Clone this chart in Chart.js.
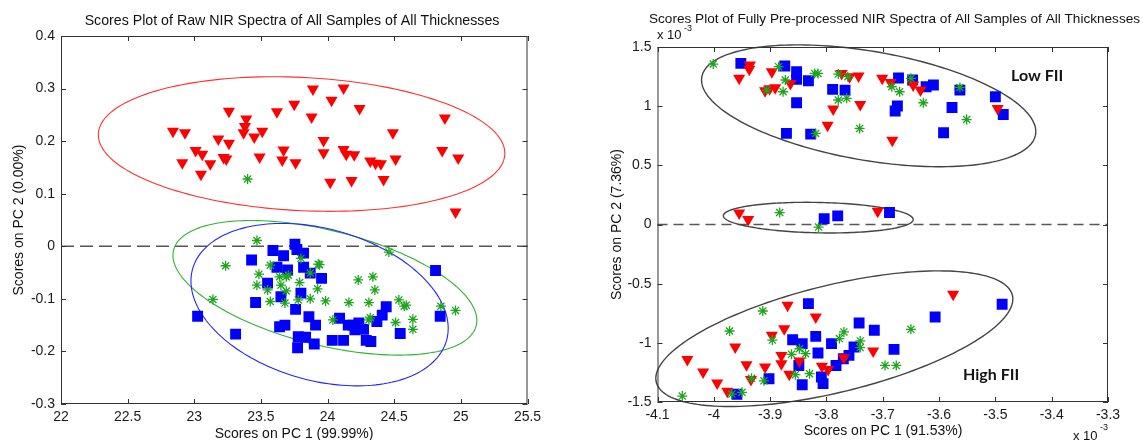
<!DOCTYPE html>
<html>
<head>
<meta charset="utf-8">
<script src="https://cdn.jsdelivr.net/npm/chart.js@4.4.1/dist/chart.umd.min.js"></script>
<style>
  html, body { margin: 0; padding: 0; background: #fff; }
  #wrap { position: relative; width: 1146px; height: 440px; overflow: hidden; }
  .box { position: absolute; top: 0; width: 573px; height: 440px; }
  #left { left: 0; }
  #right { left: 573px; }
</style>
</head>
<body>
<div id="wrap">
  <div class="box" id="left"><canvas id="rawChart" width="573" height="440"></canvas></div>
  <div class="box" id="right"><canvas id="preChart" width="573" height="440"></canvas></div>
</div>
<script>
// ---- left plot: raw spectra, PC1 vs PC2 ----
const rawXTicks = [22, 22.5, 23, 23.5, 24, 24.5, 25, 25.5];
const rawYTicks = [-0.3, -0.2, -0.1, 0, 0.1, 0.2, 0.3, 0.4];

const rawRed = [
  [22.84, 0.219], [22.93, 0.216], [23.26, 0.257], [23.39, 0.242], [23.38, 0.228], [23.37, 0.216],
  [23.45, 0.208], [23.51, 0.219], [23.62, 0.256], [23.75, 0.270], [23.89, 0.299], [23.88, 0.246],
  [24.03, 0.278], [24.12, 0.301], [24.24, 0.262], [24.49, 0.216], [24.88, 0.244], [23.18, 0.204],
  [23.26, 0.196], [23.01, 0.182], [23.06, 0.175], [22.91, 0.159], [23.12, 0.157], [23.05, 0.137],
  [23.22, 0.169], [23.24, 0.166], [23.49, 0.170], [23.67, 0.183], [23.66, 0.164], [23.76, 0.159],
  [23.97, 0.201], [23.97, 0.178], [24.12, 0.184], [24.14, 0.175], [24.20, 0.174], [24.32, 0.162],
  [24.36, 0.158], [24.40, 0.157], [24.51, 0.166], [24.02, 0.122], [24.18, 0.125], [24.42, 0.127],
  [24.86, 0.182], [24.98, 0.168], [24.96, 0.065]
];
const rawBlue = [
  [23.43, -0.026], [23.59, -0.008], [23.67, -0.018], [23.755, 0.004], [23.77, -0.006], [23.82, -0.013],
  [23.62, -0.040], [23.70, -0.045], [23.82, -0.040], [23.87, -0.051], [23.955, -0.061], [23.55, -0.070],
  [23.65, -0.096], [23.80, -0.089], [23.46, -0.107], [23.76, -0.120], [23.64, -0.153], [23.68, -0.150],
  [23.86, -0.134], [23.91, -0.150], [23.78, -0.172], [23.835, -0.173], [23.775, -0.193], [23.90, -0.186],
  [24.09, -0.137], [24.035, -0.179], [24.12, -0.179], [24.155, -0.150], [24.19, -0.150], [24.235, -0.146],
  [24.27, -0.158], [24.205, -0.159], [24.29, -0.179], [24.325, -0.181], [24.37, -0.143], [24.41, -0.131],
  [24.44, -0.115], [24.545, -0.166], [24.81, -0.046], [24.845, -0.133], [23.025, -0.133], [23.31, -0.167]
];
const rawGreen = [
  [23.40, 0.128], [23.47, 0.011], [23.235, -0.037], [23.57, -0.036], [23.93, -0.034], [23.485, -0.053],
  [23.64, -0.058], [23.69, -0.058], [23.705, -0.055], [23.87, -0.051], [23.47, -0.074], [23.55, -0.083],
  [23.65, -0.074], [23.79, -0.069], [23.925, -0.081], [23.69, -0.085], [24.34, -0.058], [24.23, -0.064],
  [24.355, -0.083], [23.14, -0.101], [23.57, -0.105], [23.68, -0.108], [23.78, -0.102], [23.87, -0.100],
  [23.985, -0.104], [24.16, -0.107], [24.31, -0.107], [24.535, -0.102], [24.575, -0.114], [24.59, -0.112],
  [24.85, -0.114], [24.96, -0.122], [24.04, -0.140], [24.32, -0.136], [24.31, -0.140], [24.46, -0.011],
  [24.51, -0.145], [24.64, -0.139], [24.64, -0.158], [23.80, -0.023], [23.94, -0.035]
];
// ellipse: centre x, centre y, then x = cx + a*cos + b*sin, y = cy + c*cos + d*sin
const rawEllipses = [
  [23.805, 0.1945, 1.525, 0, -0.0175, 0.1268],
  [23.98, -0.079, 1.14, 0, -0.062, 0.112],
  [23.94, -0.111, 0.965, 0, -0.045, 0.1478]
];

// ---- right plot: fully pre-processed spectra (values x 10^-3) ----
const preXTicks = [-4.1, -4, -3.9, -3.8, -3.7, -3.6, -3.5, -3.4, -3.3];
const preYTicks = [-1.5, -1, -0.5, 0, 0.5, 1, 1.5];

const preRed = [
  [-3.955, 1.235], [-3.936, 1.348], [-3.937, 1.311], [-3.897, 1.291], [-3.864, 1.192], [-3.909, 1.131],
  [-3.901, 1.147], [-3.891, 1.155], [-3.773, 1.277], [-3.759, 1.249], [-3.743, 1.254], [-3.788, 0.977],
  [-3.740, 1.015], [-3.798, 0.839], [-3.701, 1.235], [-3.686, 1.199], [-3.646, 1.179], [-3.633, 1.136],
  [-3.683, 0.713], [-3.496, 0.981],
  [-3.955, 0.098], [-3.939, 0.042], [-3.709, 0.112],
  [-4.047, -1.140], [-4.019, -1.247], [-3.994, -1.340], [-3.976, -1.410], [-3.962, -1.035], [-3.942, -1.185],
  [-3.934, -1.309], [-3.909, -1.204], [-3.897, -0.936], [-3.875, -0.880], [-3.869, -0.682], [-3.880, -1.106],
  [-3.880, -1.176], [-3.866, -1.266], [-3.848, -1.153], [-3.819, -0.781], [-3.808, -1.198], [-3.797, -1.226],
  [-3.769, -1.125], [-3.717, -1.069], [-3.575, -0.589]
];
const preBlue = [
  [-3.952, 1.362], [-3.874, 1.339], [-3.853, 1.291], [-3.853, 1.226], [-3.832, 1.215], [-3.789, 1.142],
  [-3.767, 1.136], [-3.853, 1.029], [-3.871, 0.770], [-3.828, 0.764], [-3.672, 1.238], [-3.647, 1.221],
  [-3.623, 1.164], [-3.610, 1.179], [-3.674, 1.001], [-3.678, 0.959], [-3.563, 1.136], [-3.577, 0.989],
  [-3.592, 0.775], [-3.500, 1.080], [-3.486, 0.930],
  [-3.804, 0.050], [-3.780, 0.073], [-3.688, 0.101],
  [-3.959, -1.435], [-3.902, -1.303], [-3.860, -0.974], [-3.843, -1.007], [-3.849, -1.191], [-3.843, -1.354],
  [-3.832, -0.669], [-3.819, -0.945], [-3.815, -1.086], [-3.809, -1.289], [-3.806, -1.345], [-3.791, -1.007],
  [-3.783, -1.191], [-3.770, -1.134], [-3.760, -1.106], [-3.751, -1.035], [-3.742, -0.832], [-3.715, -0.894],
  [-3.680, -1.055], [-3.607, -0.782], [-3.488, -0.674]
];
const preGreen = [
  [-4.001, 1.356], [-3.885, 1.334], [-3.873, 1.221], [-3.877, 1.122], [-3.906, 1.136], [-3.821, 1.277],
  [-3.815, 1.277], [-3.779, 1.271], [-3.762, 1.249], [-3.779, 1.052], [-3.764, 1.066], [-3.741, 0.812],
  [-3.819, 0.770], [-3.650, 1.235], [-3.684, 1.164], [-3.670, 1.122], [-3.628, 1.029], [-3.563, 1.158],
  [-3.551, 0.887],
  [-3.883, 0.101], [-3.814, -0.022],
  [-4.056, -1.450], [-3.972, -0.900], [-3.950, -1.418], [-3.968, -1.433], [-3.933, -1.300], [-3.913, -0.731],
  [-3.911, -1.321], [-3.896, -0.977], [-3.862, -1.097], [-3.855, -1.269], [-3.848, -1.050], [-3.837, -1.092],
  [-3.830, -1.261], [-3.777, -0.964], [-3.769, -0.908], [-3.740, -0.984], [-3.740, -1.040], [-3.696, -1.191],
  [-3.676, -1.191], [-3.650, -0.886]
];
const preEllipses = [
  [-3.725, 1.003, 0.2968, 0, -0.218, 0.4666],
  [-3.8145, 0.058, 0.1685, 0, -0.016, 0.1285],
  [-3.786, -0.965, 0.317, 0, 0.335, 0.465]
];

const SANS = '"Liberation Sans", Arial, sans-serif';
const fmt = v => String(+v.toFixed(3));

// frame with inward ticks, ellipses, dashed zero line and free text
function decor(cfg) {
  return {
    id: 'decor',
    beforeDatasetsDraw(chart) {
      const { ctx, chartArea: a, scales: { x, y } } = chart;
      ctx.save();
      // dashed zero line
      ctx.strokeStyle = '#555';
      ctx.lineWidth = 1.6;
      ctx.setLineDash(cfg.dash);
      ctx.beginPath();
      ctx.moveTo(a.left, y.getPixelForValue(0));
      ctx.lineTo(a.right, y.getPixelForValue(0));
      ctx.stroke();
      ctx.setLineDash([]);
      // ellipses
      cfg.ellipses.forEach((p, k) => {
        ctx.strokeStyle = cfg.ellipseColors[k];
        ctx.lineWidth = cfg.ellipseWidth;
        ctx.beginPath();
        for (let i = 0; i <= 180; i++) {
          const t = i / 180 * Math.PI * 2;
          const vx = p[0] + p[2] * Math.cos(t) + p[3] * Math.sin(t);
          const vy = p[1] + p[4] * Math.cos(t) + p[5] * Math.sin(t);
          const px = x.getPixelForValue(vx), py = y.getPixelForValue(vy);
          if (i) ctx.lineTo(px, py); else ctx.moveTo(px, py);
        }
        ctx.stroke();
      });
      ctx.restore();
    },
    afterDatasetsDraw(chart) {
      const { ctx, chartArea: a, scales: { x, y } } = chart;
      ctx.save();
      ctx.strokeStyle = '#333';
      ctx.lineWidth = 1;
      ctx.strokeRect(a.left + 0.5, a.top + 0.5, a.right - a.left - 1, a.bottom - a.top - 1);
      ctx.beginPath();
      x.ticks.forEach((t, i) => {
        const px = Math.round(x.getPixelForTick(i)) + 0.5;
        ctx.moveTo(px, a.bottom); ctx.lineTo(px, a.bottom - 5);
        ctx.moveTo(px, a.top); ctx.lineTo(px, a.top + 5);
      });
      y.ticks.forEach((t, i) => {
        const py = Math.round(y.getPixelForTick(i)) + 0.5;
        ctx.moveTo(a.left, py); ctx.lineTo(a.left + 5, py);
        ctx.moveTo(a.right, py); ctx.lineTo(a.right - 5, py);
      });
      ctx.stroke();
      ctx.restore();
    },
    afterDraw(chart) {
      const ctx = chart.ctx;
      ctx.save();
      ctx.textBaseline = 'middle';
      cfg.texts.forEach(t => {
        ctx.font = t.font;
        ctx.fillStyle = t.color || '#111';
        ctx.textAlign = t.align || 'center';
        ctx.save();
        ctx.translate(t.x, t.y);
        if (t.rotate) ctx.rotate(t.rotate);
        ctx.fillText(t.text, 0, 0);
        ctx.restore();
      });
      ctx.restore();
    }
  };
}

function scatterSets(red, blue, green) {
  return [
    { label: 'green', data: green.map(p => ({ x: p[0], y: p[1] })), pointStyle: 'star', pointRadius: 5,
      borderColor: '#1ea51e', backgroundColor: '#1ea51e', borderWidth: 1.3 },
    { label: 'red', data: red.map(p => ({ x: p[0], y: p[1] })), pointStyle: 'triangle', rotation: 180,
      pointRadius: 7, borderColor: '#ff0000', backgroundColor: '#ff0000', borderWidth: 0 },
    { label: 'blue', data: blue.map(p => ({ x: p[0], y: p[1] })), pointStyle: 'rect', pointRadius: 7.7,
      borderColor: '#0000ff', backgroundColor: '#0000ff', borderWidth: 0 }
  ];
}

function axis(min, max, list, size, horizontal, pad) {
  return {
    type: 'linear', min: min, max: max,
    afterBuildTicks: s => { s.ticks = list.map(v => ({ value: v })); },
    afterFit: s => { if (horizontal) s.height = size; else s.width = size; },
    grid: { display: false, drawTicks: false },
    border: { display: false },
    ticks: { padding: pad, color: '#1a1a1a', autoSkip: false, maxRotation: 0,
      font: { family: SANS, size: 14 }, callback: fmt }
  };
}

function makeChart(id, cfg) {
  return new Chart(document.getElementById(id), {
    type: 'scatter',
    data: { datasets: scatterSets(cfg.red, cfg.blue, cfg.green) },
    options: {
      responsive: false,
      animation: false,
      layout: { autoPadding: false, padding: cfg.padding },
      plugins: { legend: { display: false }, tooltip: { enabled: false } },
      scales: {
        x: axis(cfg.xTicks[0], cfg.xTicks[cfg.xTicks.length - 1], cfg.xTicks, cfg.xH, true, 5),
        y: axis(cfg.yTicks[0], cfg.yTicks[cfg.yTicks.length - 1], cfg.yTicks, cfg.yW, false, 6)
      }
    },
    plugins: [decor(cfg)]
  });
}

makeChart('rawChart', {
  red: rawRed, blue: rawBlue, green: rawGreen,
  xTicks: rawXTicks, yTicks: rawYTicks,
  padding: { left: 0, top: 36, right: 45.5, bottom: 0 }, xH: 36, yW: 61,
  ellipses: rawEllipses, ellipseColors: ['#ff3030', '#2fb52f', '#2424ff'], ellipseWidth: 1.1,
  dash: [13, 6],
  texts: [
    { text: 'Scores Plot of Raw NIR Spectra of All Samples of All Thicknesses', x: 292, y: 21, font: '14.2px ' + SANS },
    { text: 'Scores on PC 1 (99.99%)', x: 294, y: 434, font: '14px ' + SANS },
    { text: 'Scores on PC 2 (0.00%)', x: 19, y: 220, font: '14px ' + SANS, rotate: -Math.PI / 2 }
  ]
});

makeChart('preChart', {
  red: preRed, blue: preBlue, green: preGreen,
  xTicks: preXTicks, yTicks: preYTicks,
  padding: { left: 0, top: 47, right: 38, bottom: 0 }, xH: 38, yW: 84.5,
  ellipses: preEllipses, ellipseColors: ['#444', '#444', '#444'], ellipseWidth: 1.4,
  dash: [10, 6],
  texts: [
    { text: 'Scores Plot of Fully Pre-processed NIR Spectra of All Samples of All Thicknesses', x: 76, y: 19, font: '13.6px ' + SANS, align: 'left' },
    { text: 'Scores on PC 1 (91.53%)', x: 310, y: 431, font: '14px ' + SANS },
    { text: 'Scores on PC 2 (7.36%)', x: 44.5, y: 224.5, font: '14px ' + SANS, rotate: -Math.PI / 2 },
    { text: 'x 10', x: 84, y: 35, font: '13px ' + SANS, align: 'left' },
    { text: '-3', x: 111, y: 29, font: '9px ' + SANS, align: 'left' },
    { text: 'x 10', x: 500, y: 436, font: '13px ' + SANS, align: 'left' },
    { text: '-3', x: 527, y: 428, font: '9px ' + SANS, align: 'left' },
    { text: 'Low FII', x: 438, y: 76, font: 'bold 16px Lato, "Open Sans", sans-serif', align: 'left', color: '#141414' },
    { text: 'High FII', x: 390, y: 375, font: 'bold 16px Lato, "Open Sans", sans-serif', align: 'left', color: '#141414' }
  ]
});
</script>
</body>
</html>
